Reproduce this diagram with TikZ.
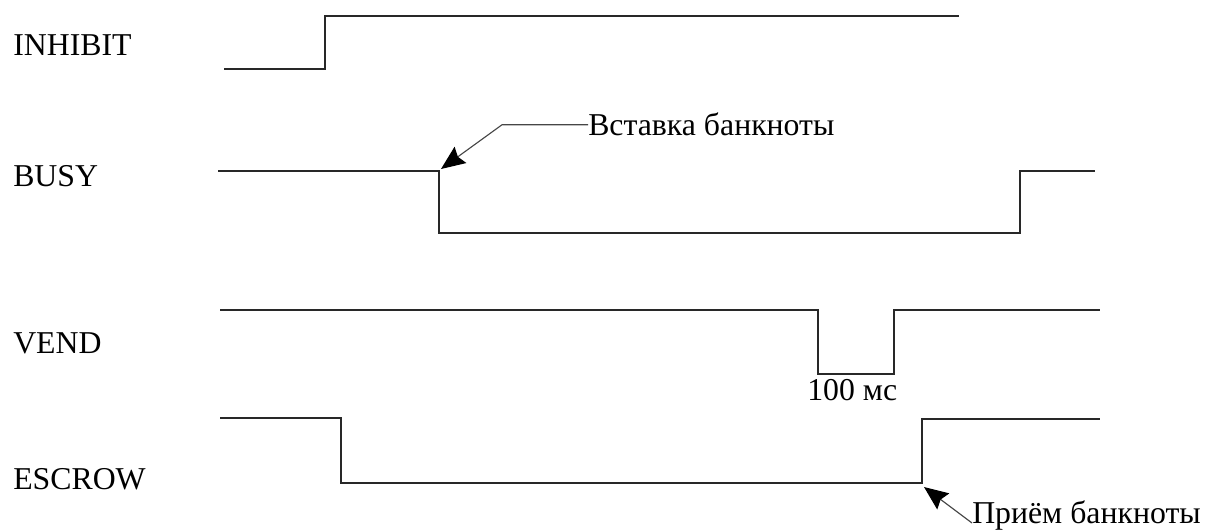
\documentclass[tikz,border=0pt]{standalone}
\usepackage{fontspec}
\setmainfont{Liberation Serif}
\usepackage{tikz}
\usetikzlibrary{arrows.meta, positioning}
\definecolor{wavecolor}{RGB}{40, 40, 40}
\definecolor{pointercolor}{RGB}{70, 70, 70}

\begin{document}
\begin{tikzpicture}[
    x=0.025cm, y=-0.025cm,
    signal/.style={anchor=base west, inner sep=0pt, font=\fontsize{22.6}{26}\selectfont},
    note/.style={anchor=base west, inner sep=0pt, font=\fontsize{22.6}{26}\selectfont},
    wave/.style={draw=wavecolor, line width=1.8pt, line join=miter},
    pointer/.style={draw=pointercolor, line width=0.8pt, -{Stealth[length=0.6cm, width=0.5cm, inset=0.08cm, black]}},
]
    \useasboundingbox (0,0) rectangle (1205,531);

    % Signal names
    \node[signal] (inhibit) at (13, 56) {INHIBIT};
    \node[signal] (busy) at (13, 187) {BUSY};
    \node[signal] (vend) at (13, 353) {VEND};
    \node[signal] (escrow) at (13, 489) {ESCROW};

    % Waveforms
    \draw[wave] (224, 69) -- (325, 69) -- (325, 16) -- (959, 16);
    \draw[wave] (218, 171) -- (439, 171) -- (439, 233) -- (1020, 233) -- (1020, 171) -- (1095, 171);
    \draw[wave] (220, 310) -- (818, 310) -- (818, 374) -- (894, 374) -- (894, 310) -- (1100, 310);
    \draw[wave] (220, 418) -- (341, 418) -- (341, 483) -- (922, 483) -- (922, 419) -- (1100, 419);

    % Notes
    \node[note] (instext) at (588, 136) {Вставка банкноты};
    \node[note] (pulse) at (807, 400) {100 мс};
    \node[note] (accepttext) at (972, 523) {Приём банкноты};

    % Pointers
    \coordinate (insbend) at (502, 123);
    \coordinate (instip) at (441, 169);
    \coordinate (accepttip) at (924, 487);
    \draw[pointer] (instext.west) -- (instext.west -| insbend) -- (instip);
    \draw[pointer] (accepttext.base west) -- (accepttip);

\end{tikzpicture}
\end{document}
